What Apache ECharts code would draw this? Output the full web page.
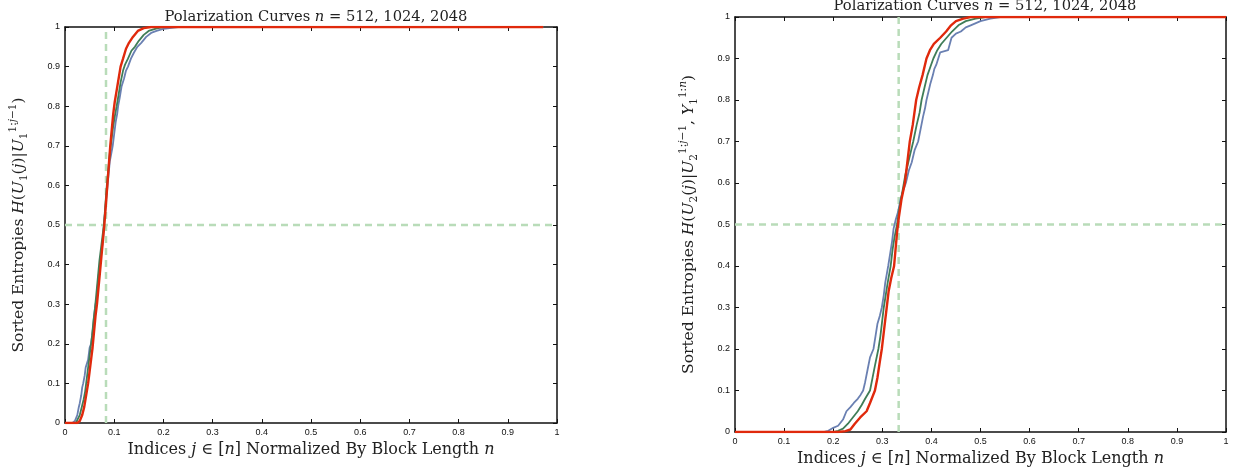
<!DOCTYPE html>
<html>
<head>
<meta charset="utf-8">
<script src="https://cdn.jsdelivr.net/npm/echarts@6/dist/echarts.min.js"></script>
<style>
  html, body { margin: 0; padding: 0; background: #fff; }
  #main { width: 1234px; height: 472px; }
</style>
</head>
<body>
<div id="main"></div>
<script>
// tick values shared by both panels
var ticks = [0, 0.1, 0.2, 0.3, 0.4, 0.5, 0.6, 0.7, 0.8, 0.9, 1];
var seriesNames = ["n = 512", "n = 1024", "n = 2048"];
var colors = ["#6a80b2", "#3f7d57", "#e0290c"];

// left panel: H(U1(j) | U1^{1:j-1}), points [x, y]
var left512 = [[0,0],[0.015,0],[0.02,0.005],[0.025,0.02],[0.028,0.04],[0.03,0.05],[0.033,0.07],[0.035,0.09],[0.037,0.1],[0.04,0.12],[0.042,0.14],[0.045,0.14],[0.047,0.16],[0.05,0.19],[0.053,0.2],[0.055,0.22],[0.057,0.24],[0.06,0.28],[0.062,0.3],[0.064,0.31],[0.066,0.34],[0.069,0.38],[0.071,0.4],[0.074,0.43],[0.077,0.46],[0.079,0.5],[0.082,0.54],[0.085,0.58],[0.088,0.62],[0.091,0.66],[0.094,0.68],[0.097,0.7],[0.1,0.73],[0.103,0.76],[0.106,0.78],[0.108,0.8],[0.111,0.82],[0.115,0.85],[0.12,0.87],[0.124,0.89],[0.128,0.9],[0.134,0.92],[0.14,0.935],[0.147,0.95],[0.155,0.96],[0.165,0.975],[0.175,0.985],[0.186,0.99],[0.2,0.995],[0.23,1],[0.972,1]];
var left1024 = [[0,0],[0.022,0],[0.026,0.005],[0.03,0.02],[0.034,0.04],[0.038,0.06],[0.041,0.08],[0.043,0.1],[0.046,0.13],[0.049,0.16],[0.052,0.19],[0.055,0.22],[0.058,0.26],[0.061,0.29],[0.064,0.33],[0.067,0.37],[0.07,0.41],[0.073,0.44],[0.076,0.47],[0.079,0.5],[0.082,0.55],[0.085,0.6],[0.088,0.64],[0.091,0.68],[0.094,0.71],[0.098,0.75],[0.102,0.78],[0.105,0.8],[0.109,0.83],[0.113,0.86],[0.118,0.89],[0.122,0.905],[0.128,0.92],[0.135,0.94],[0.142,0.95],[0.15,0.965],[0.16,0.98],[0.17,0.99],[0.185,0.996],[0.2,1],[0.972,1]];
var left2048 = [[0,0],[0.025,0],[0.03,0.005],[0.035,0.02],[0.039,0.04],[0.043,0.07],[0.047,0.1],[0.05,0.13],[0.053,0.16],[0.056,0.19],[0.059,0.23],[0.062,0.27],[0.065,0.3],[0.068,0.34],[0.071,0.38],[0.074,0.42],[0.077,0.46],[0.08,0.5],[0.083,0.55],[0.086,0.6],[0.089,0.65],[0.092,0.7],[0.095,0.74],[0.098,0.78],[0.101,0.81],[0.105,0.84],[0.109,0.87],[0.113,0.9],[0.118,0.92],[0.124,0.945],[0.13,0.96],[0.138,0.975],[0.148,0.99],[0.16,0.997],[0.175,1],[0.972,1]];

// right panel: H(U2(j) | U2^{1:j-1}, Y1^{1:n})
var right512 = [[0,0],[0.18,0],[0.19,0.003],[0.2,0.01],[0.21,0.015],[0.22,0.03],[0.227,0.05],[0.235,0.06],[0.242,0.07],[0.25,0.08],[0.256,0.09],[0.261,0.1],[0.265,0.12],[0.27,0.15],[0.275,0.18],[0.282,0.2],[0.286,0.23],[0.29,0.26],[0.295,0.28],[0.299,0.3],[0.303,0.33],[0.306,0.36],[0.309,0.38],[0.312,0.4],[0.316,0.43],[0.32,0.46],[0.323,0.49],[0.327,0.51],[0.332,0.53],[0.337,0.56],[0.342,0.58],[0.348,0.6],[0.354,0.63],[0.36,0.65],[0.366,0.68],[0.373,0.7],[0.378,0.73],[0.383,0.76],[0.387,0.78],[0.39,0.8],[0.394,0.82],[0.398,0.84],[0.403,0.86],[0.406,0.875],[0.41,0.885],[0.414,0.9],[0.418,0.915],[0.434,0.92],[0.441,0.95],[0.45,0.96],[0.46,0.965],[0.47,0.975],[0.48,0.98],[0.5,0.99],[0.52,0.996],[0.54,1],[1,1]];
var right1024 = [[0,0],[0.2,0],[0.21,0.003],[0.22,0.008],[0.23,0.02],[0.24,0.035],[0.25,0.05],[0.258,0.065],[0.265,0.08],[0.275,0.1],[0.28,0.13],[0.285,0.16],[0.292,0.2],[0.296,0.23],[0.3,0.27],[0.303,0.3],[0.307,0.33],[0.311,0.36],[0.317,0.4],[0.321,0.44],[0.325,0.47],[0.33,0.5],[0.335,0.54],[0.341,0.58],[0.347,0.62],[0.355,0.66],[0.363,0.7],[0.37,0.74],[0.376,0.77],[0.38,0.8],[0.386,0.83],[0.392,0.86],[0.398,0.88],[0.404,0.9],[0.412,0.92],[0.42,0.935],[0.431,0.95],[0.442,0.965],[0.455,0.98],[0.47,0.99],[0.49,0.996],[0.51,1],[1,1]];
var right2048 = [[0,0],[0.21,0],[0.225,0.002],[0.235,0.006],[0.244,0.02],[0.255,0.035],[0.268,0.05],[0.275,0.07],[0.28,0.085],[0.285,0.1],[0.29,0.13],[0.295,0.17],[0.299,0.2],[0.303,0.24],[0.306,0.27],[0.309,0.3],[0.313,0.34],[0.318,0.37],[0.324,0.4],[0.327,0.44],[0.33,0.48],[0.334,0.52],[0.339,0.56],[0.346,0.6],[0.351,0.65],[0.356,0.7],[0.362,0.74],[0.369,0.8],[0.375,0.83],[0.382,0.86],[0.39,0.9],[0.397,0.92],[0.405,0.935],[0.418,0.95],[0.43,0.965],[0.44,0.98],[0.45,0.99],[0.465,0.996],[0.48,1],[1,1]];

// dashed guide lines: vertical at x, horizontal at y
var leftGuideX = 1 / 12;
var rightGuideX = 1 / 3;
var guideY = 0.5;

var serif = "'DejaVu Serif', 'Liberation Serif', serif";
function mathStyles(size) {
  var base = { fontFamily: serif, fontSize: size, fontWeight: "normal", color: "#222", lineHeight: 22 };
  var small = size * 0.68;
  return {
    r: Object.assign({}, base),
    i: Object.assign({}, base, { fontStyle: "italic" }),
    sb: Object.assign({}, base, { fontSize: small, verticalAlign: "bottom" }),
    sp: Object.assign({}, base, { fontSize: small, fontStyle: "italic", verticalAlign: "top" }),
    spr: Object.assign({}, base, { fontSize: small, verticalAlign: "top" })
  };
}

var titleText = "{r|Polarization Curves }{i|n}{r| = 512, 1024, 2048}";
var xName = "{r|Indices }{i|j}{r| ∈ [}{i|n}{r|] Normalized By Block Length }{i|n}";
var yNameLeft = "{r|Sorted Entropies }{i|H}{r|(}{i|U}{sb|1}{r|(}{i|j}{r|)|}{i|U}{sb|1}{spr|1:}{sp|j}{spr|−1}{r|)}";
var yNameRight = "{r|Sorted Entropies }{i|H}{r|(}{i|U}{sb|2}{r|(}{i|j}{r|)|}{i|U}{sb|2}{spr|1:}{sp|j}{spr|−1}{r|, }{i|Y}{sb|1}{spr|1:}{sp|n}{r|)}";

var tickLabel = { fontFamily: "'Liberation Sans', Arial, sans-serif", fontSize: 9, color: "#111" };
var blackLine = { color: "#111", width: 1.5 };
var inTick = { show: true, inside: true, length: 4, lineStyle: { color: "#111" } };

function mainX(grid, name) {
  return {
    type: "value", gridIndex: grid, position: "bottom", min: 0, max: 1, interval: 0.1,
    axisLine: { show: true, onZero: false, lineStyle: blackLine },
    axisTick: inTick,
    axisLabel: Object.assign({ margin: 5, formatter: v => String(+v.toFixed(1)) }, tickLabel),
    splitLine: { show: false },
    name: name, nameLocation: "middle", nameGap: 15,
    nameTextStyle: { rich: mathStyles(16) }
  };
}
function boxX(grid) {
  return {
    type: "value", gridIndex: grid, position: "top", min: 0, max: 1, interval: 0.1,
    axisLine: { show: true, onZero: false, lineStyle: blackLine },
    axisTick: inTick, axisLabel: { show: false }, splitLine: { show: false }
  };
}
function mainY(grid, name) {
  return {
    type: "value", gridIndex: grid, position: "left", min: 0, max: 1, interval: 0.1,
    axisLine: { show: true, onZero: false, lineStyle: blackLine },
    axisTick: inTick,
    axisLabel: Object.assign({ margin: 5, formatter: v => String(+v.toFixed(1)) }, tickLabel),
    splitLine: { show: false },
    name: name, nameLocation: "middle", nameGap: 35, nameRotate: 90,
    nameTextStyle: { rich: mathStyles(15.5) }
  };
}
function boxY(grid) {
  return {
    type: "value", gridIndex: grid, position: "right", min: 0, max: 1, interval: 0.1,
    axisLine: { show: true, onZero: false, lineStyle: blackLine },
    axisTick: inTick, axisLabel: { show: false }, splitLine: { show: false }
  };
}

function curve(name, data, axis, idx) {
  return {
    name: name, type: "line", xAxisIndex: axis, yAxisIndex: axis,
    data: data, showSymbol: false, animation: false, z: 3 + idx,
    lineStyle: { color: colors[idx], width: idx === 2 ? 2.4 : 1.8 }
  };
}
function guide(data, axis) {
  return {
    type: "line", xAxisIndex: axis, yAxisIndex: axis, data: data,
    showSymbol: false, animation: false, z: 1, silent: true,
    lineStyle: { color: "#b9dcb9", width: 2.5, type: [7, 5] }
  };
}

var chart = echarts.init(document.getElementById("main"), null, { renderer: "canvas" });
chart.setOption({
  animation: false,
  backgroundColor: "#fff",
  title: [
    { text: titleText, left: 311, top: 1, textAlign: "center", textStyle: { rich: mathStyles(14.7) } },
    { text: titleText, left: 980, top: -10, textAlign: "center", textStyle: { rich: mathStyles(14.7) } }
  ],
  grid: [
    { left: 65, right: 677, top: 27, bottom: 49, outerBoundsMode: "none" },
    { left: 735, right: 8, top: 17, bottom: 40, outerBoundsMode: "none" }
  ],
  xAxis: [mainX(0, xName), boxX(0), mainX(1, xName), boxX(1)],
  yAxis: [mainY(0, yNameLeft), boxY(0), mainY(1, yNameRight), boxY(1)],
  series: [
    guide([[leftGuideX, 0], [leftGuideX, 1]], 0),
    guide([[0, guideY], [1, guideY]], 0),
    curve(seriesNames[0], left512, 0, 0),
    curve(seriesNames[1], left1024, 0, 1),
    curve(seriesNames[2], left2048, 0, 2),
    guide([[rightGuideX, 0], [rightGuideX, 1]], 2),
    guide([[0, guideY], [1, guideY]], 2),
    curve(seriesNames[0], right512, 2, 0),
    curve(seriesNames[1], right1024, 2, 1),
    curve(seriesNames[2], right2048, 2, 2)
  ]
});
</script>
</body>
</html>
